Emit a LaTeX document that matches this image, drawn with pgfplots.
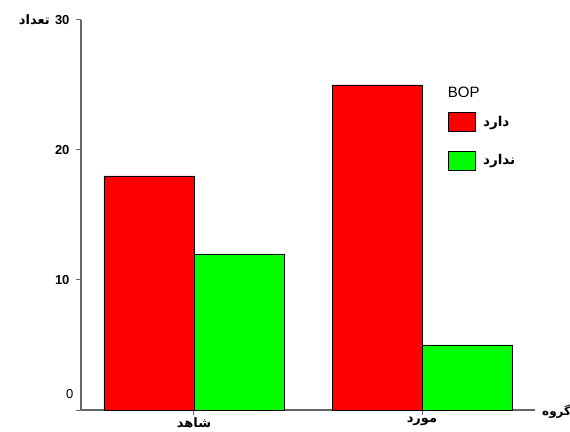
\documentclass[border=0pt]{standalone}
\usepackage{fontspec}
\setmainfont{Liberation Sans}
\newfontfamily\arabicfont[Script=Arabic]{DejaVu Sans}
\TeXXeTstate=1
\usepackage{pgfplots}
\pgfplotsset{compat=1.18}
\newcommand{\fa}[1]{{\arabicfont\beginR #1\endR}}
\definecolor{barred}{HTML}{FF0000}
\definecolor{bargreen}{HTML}{00FF00}
\begin{document}
\begin{tikzpicture}
\useasboundingbox (0,0) rectangle (570pt,431pt);
\begin{axis}[
  at={(81pt,21pt)}, anchor=south west,
  scale only axis, width=454pt, height=390pt,
  xmin=-0.4956, xmax=1.4956, ymin=0, ymax=30,
  axis lines=left,
  axis line style={-, line width=1.2pt, black!60},
  tick align=outside, major tick length=5pt,
  tick style={line width=1pt, black!60},
  xtick={0,1},
  xticklabels={\fa{شاهد},\fa{مورد}},
  xticklabel style={font=\bfseries\fontsize{13}{15}\selectfont, yshift=1pt},
  ytick={0,10,20,30},
  yticklabels={{\raisebox{12pt}[0pt][0pt]{\mdseries 0}\hspace*{-4pt}},10,20,30},
  yticklabel style={font=\bfseries\fontsize{13}{15}\selectfont, xshift=-3pt},
  /pgf/number format/assume math mode=true,
  ylabel={\fa{تعداد}},
  every axis y label/.style={at={(rel axis cs:0,1)}, anchor=east, inner sep=0pt, xshift=-31pt,
    font=\bfseries\fontsize{13}{15}\selectfont},
  xlabel={\fa{گروه}},
  every axis x label/.style={at={(rel axis cs:1,0)}, anchor=west, inner sep=0pt, xshift=7pt, yshift=-2pt,
    font=\bfseries\fontsize{12}{14}\selectfont},
  ybar, bar width=90pt,
  legend style={at={(rel axis cs:0.802,0.838)}, anchor=north west, draw=none, fill=none,
    font=\bfseries\fontsize{13.5}{15}\selectfont, row sep=19pt, column sep=4pt,
    nodes={inner sep=3pt}},
  legend cell align=left,
]
\addlegendimage{legend image code/.code={\node[overlay, anchor=west, inner sep=0pt, font=\mdseries\fontsize{15}{17}\selectfont] at (-1pt,-4pt) {BOP};}}
\addlegendentry{}
\addplot[fill=barred, draw=black, line width=0.8pt, bar shift=-45pt,
  legend image code/.code={\draw[fill=barred, draw=black, line width=0.8pt] (0pt,-9.5pt) rectangle (27pt,9.5pt);}]
  coordinates {(0,18) (1,25)};
\addlegendentry{\fa{دارد}}
\addplot[fill=bargreen, draw=black, line width=0.8pt, bar shift=45pt,
  legend image code/.code={\draw[fill=bargreen, draw=black, line width=0.8pt] (0pt,-9.5pt) rectangle (27pt,9.5pt);}]
  coordinates {(0,12) (1,5)};
\addlegendentry{\fa{ندارد}}
\end{axis}
\end{tikzpicture}
\end{document}
